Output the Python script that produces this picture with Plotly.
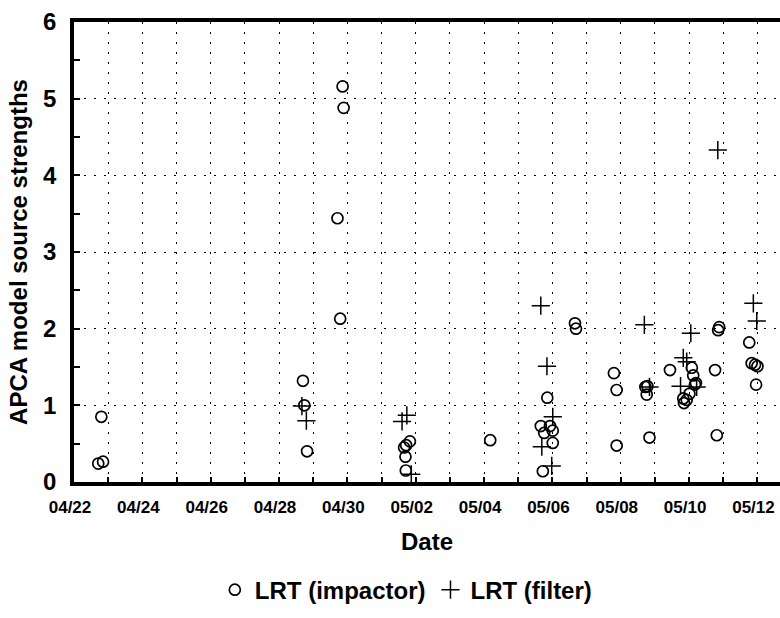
import pandas as pd
import plotly.graph_objects as go

start_date = "2002-04-22"

# fractional days after 04/22 00:00, and model source strengths
impactor_day = [0.71, 0.85, 0.80,
                6.70, 6.74, 6.82,
                7.86, 7.89, 7.71, 7.79,
                9.83, 9.72, 9.66, 9.70, 9.71,
                12.18,
                13.66, 13.93, 13.76, 14.01, 14.01, 13.72, 13.85,
                14.66, 14.69,
                15.80, 15.88, 15.88,
                16.78, 16.72, 16.76, 16.84,
                17.44,
                18.08, 18.12, 18.20, 18.17, 18.01, 17.83, 17.93, 17.85,
                18.88, 18.85, 18.76, 18.81,
                19.76, 19.83, 19.93, 20.00, 19.96]
impactor_val = [0.24, 0.265, 0.85,
                1.32, 1.00, 0.40,
                5.16, 4.88, 3.44, 2.13,
                0.53, 0.48, 0.45, 0.33, 0.15,
                0.545,
                0.73, 0.73, 0.64, 0.67, 0.51, 0.14, 1.10,
                2.07, 2.00,
                1.42, 1.20, 0.475,
                1.25, 1.24, 1.14, 0.58,
                1.46,
                1.49, 1.39, 1.29, 1.27, 1.15, 1.09, 1.07, 1.03,
                2.02, 1.98, 1.46, 0.61,
                1.82, 1.55, 1.53, 1.51, 1.27]

filter_day = [6.67, 6.80,
              9.74, 9.60, 9.87,
              13.66, 13.84, 14.01, 13.69, 13.98,
              16.69, 16.84,
              18.05, 17.83, 17.93, 17.75, 18.22,
              18.84,
              19.88, 19.98]
filter_val = [0.99, 0.80,
              0.87, 0.79, 0.10,
              2.30, 1.51, 0.85, 0.46, 0.21,
              2.05, 1.24,
              1.94, 1.62, 1.57, 1.25, 1.24,
              4.33,
              2.33, 2.10]

y_ticks = [0, 1, 2, 3, 4, 5, 6]

t0 = pd.Timestamp(start_date)
imp_x = [t0 + pd.Timedelta(days=d) for d in impactor_day]
fil_x = [t0 + pd.Timedelta(days=d) for d in filter_day]

FONT = "Liberation Sans, Arial, sans-serif"

fig = go.Figure()
fig.add_trace(go.Scatter(
    x=imp_x, y=impactor_val, mode="markers", name="LRT (impactor)",
    marker=dict(symbol="circle-open", size=11, color="black",
                line=dict(width=1.7, color="black")),
))
fig.add_trace(go.Scatter(
    x=fil_x, y=filter_val, mode="markers", name="LRT (filter)",
    marker=dict(symbol="cross-thin-open", size=13, color="black",
                line=dict(width=1.5, color="black")),
))

day_ms = 86400000
x_end = t0 + pd.Timedelta(days=20.66)

fig.update_layout(
    width=780, height=618,
    margin=dict(l=74, r=0, t=22, b=136),
    paper_bgcolor="white", plot_bgcolor="white",
    font=dict(family=FONT, color="black"),
    showlegend=True,
    legend=dict(orientation="h", x=0.47, xanchor="center", y=-0.235, yanchor="middle",
                font=dict(size=24, family=FONT, weight="bold"),
                bgcolor="rgba(0,0,0,0)"),
)

fig.update_xaxes(
    type="date", range=[t0, x_end],
    tick0=t0, dtick=2 * day_ms, tickformat="%m/%d",
    tickfont=dict(size=17, family=FONT, weight="bold"),
    ticks="inside", ticklen=5, tickcolor="black", tickwidth=1.5,
    showgrid=True, gridcolor="black", gridwidth=1.3, griddash="2px,8px",
    minor=dict(dtick=day_ms, tick0=t0, showgrid=True, gridcolor="black",
               gridwidth=1.3, griddash="2px,8px", ticks="inside", ticklen=5,
               tickcolor="black", tickwidth=1.5),
    showline=True, linecolor="black", linewidth=3.5, mirror=True,
    zeroline=False, ticklabelstandoff=7, ticklabelshift=-4,
    title=dict(text="Date", font=dict(size=24, weight="bold"), standoff=18),
)

fig.update_yaxes(
    range=[0, 6], tickvals=y_ticks,
    tickfont=dict(size=24, family=FONT, weight="bold"),
    ticks="inside", ticklen=6, tickcolor="black", tickwidth=1.5,
    showgrid=True, gridcolor="black", gridwidth=1.3, griddash="2px,8px",
    minor=dict(dtick=0.5, ticks="inside", ticklen=6, tickcolor="black",
               tickwidth=1.5, showgrid=False),
    showline=True, linecolor="black", linewidth=3.5,
    zeroline=False, ticklabelstandoff=9,
    title=dict(text="APCA model source strengths", font=dict(size=24, weight="bold"), standoff=10),
)

fig.write_html("out.html")
